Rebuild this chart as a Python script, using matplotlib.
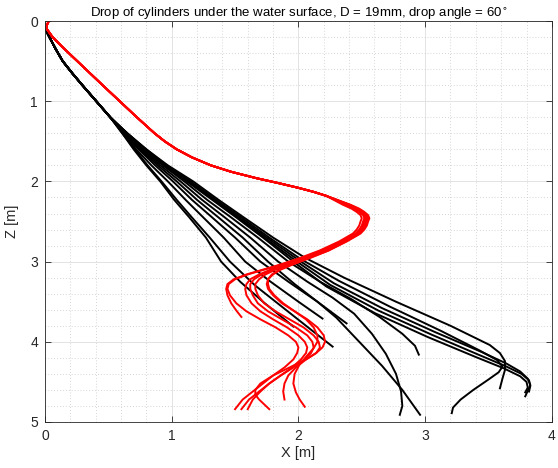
import numpy as np
import matplotlib.pyplot as plt

plt.rcParams['font.family'] = ['Liberation Sans', 'DejaVu Sans']

# shared upper parts of the trajectories (x [m], z [m])
red_top_x = [0.03, 0.015, 0.015, 0.06, 0.155, 0.255, 0.355, 0.455, 0.59, 0.725, 0.865, 0.945, 1.04,
             1.16, 1.31, 1.47, 1.67, 1.84, 2.00, 2.12, 2.22]
red_top_z = [0.00, 0.05, 0.10, 0.20, 0.35, 0.50, 0.65, 0.80, 1.00, 1.20, 1.40, 1.50, 1.60,
             1.70, 1.80, 1.88, 1.96, 2.02, 2.08, 2.13, 2.18]

blk_top_x = [0.00, 0.035, 0.085, 0.14, 0.215, 0.295, 0.405, 0.515]
blk_top_z = [0.09, 0.20, 0.35, 0.50, 0.65, 0.80, 1.00, 1.20]

# red runs after the turn
red_runs = [
    ([2.35, 2.42, 2.46, 2.49, 2.50, 2.49, 2.48, 2.46, 2.43, 2.32, 2.17, 2.02, 1.85, 1.72, 1.59, 1.49,
      1.44, 1.43, 1.44, 1.47, 1.51, 1.55],
     [2.29, 2.34, 2.38, 2.42, 2.46, 2.50, 2.55, 2.60, 2.65, 2.75, 2.86, 2.95, 3.04, 3.10, 3.16, 3.22,
      3.28, 3.34, 3.42, 3.52, 3.61, 3.69]),
    ([2.37, 2.44, 2.48, 2.51, 2.52, 2.51, 2.50, 2.48, 2.45, 2.34, 2.19, 2.04, 1.86, 1.73, 1.60, 1.50,
      1.45, 1.44, 1.46, 1.51, 1.59, 1.70, 1.82, 1.92, 1.98, 2.00, 1.99, 1.96, 1.89, 1.80, 1.72, 1.64,
      1.56, 1.50],
     [2.29, 2.34, 2.38, 2.42, 2.46, 2.50, 2.55, 2.60, 2.65, 2.75, 2.86, 2.95, 3.04, 3.10, 3.16, 3.22,
      3.28, 3.34, 3.42, 3.52, 3.62, 3.72, 3.82, 3.92, 4.00, 4.07, 4.14, 4.22, 4.32, 4.42, 4.52, 4.62,
      4.72, 4.84]),
    ([2.38, 2.45, 2.49, 2.52, 2.53, 2.52, 2.51, 2.49, 2.46, 2.35, 2.21, 2.06, 1.89, 1.78, 1.69, 1.62,
      1.59, 1.58, 1.59, 1.63, 1.70, 1.80, 1.91, 2.00, 2.05, 2.07, 2.06, 2.02, 1.95, 1.86, 1.77, 1.69,
      1.61, 1.55],
     [2.29, 2.34, 2.38, 2.42, 2.46, 2.50, 2.55, 2.60, 2.65, 2.75, 2.86, 2.95, 3.04, 3.10, 3.16, 3.22,
      3.28, 3.34, 3.42, 3.52, 3.62, 3.72, 3.82, 3.92, 4.00, 4.07, 4.14, 4.22, 4.32, 4.42, 4.52, 4.62,
      4.72, 4.84]),
    ([2.39, 2.46, 2.50, 2.53, 2.54, 2.53, 2.52, 2.50, 2.47, 2.36, 2.22, 2.07, 1.91, 1.80, 1.71, 1.65,
      1.62, 1.62, 1.64, 1.68, 1.76, 1.87, 1.98, 2.07, 2.11, 2.12, 2.10, 2.05, 1.96, 1.86, 1.77, 1.70,
      1.64, 1.60],
     [2.29, 2.34, 2.38, 2.42, 2.46, 2.50, 2.55, 2.60, 2.65, 2.75, 2.86, 2.95, 3.04, 3.10, 3.16, 3.22,
      3.28, 3.34, 3.42, 3.52, 3.62, 3.72, 3.82, 3.92, 4.00, 4.07, 4.14, 4.22, 4.32, 4.42, 4.52, 4.62,
      4.72, 4.84]),
    ([2.40, 2.47, 2.51, 2.54, 2.55, 2.54, 2.53, 2.51, 2.48, 2.37, 2.23, 2.08, 1.92, 1.82, 1.74, 1.69,
      1.66, 1.66, 1.68, 1.73, 1.82, 1.93, 2.04, 2.12, 2.16, 2.17, 2.14, 2.06, 1.93, 1.80, 1.70, 1.66,
      1.66, 1.69, 1.73, 1.77],
     [2.29, 2.34, 2.38, 2.42, 2.46, 2.50, 2.55, 2.60, 2.65, 2.75, 2.86, 2.95, 3.04, 3.10, 3.16, 3.22,
      3.28, 3.34, 3.42, 3.52, 3.62, 3.72, 3.82, 3.92, 4.00, 4.07, 4.14, 4.22, 4.32, 4.42, 4.52, 4.60,
      4.66, 4.72, 4.78, 4.84]),
    ([2.41, 2.48, 2.52, 2.55, 2.56, 2.55, 2.54, 2.52, 2.49, 2.38, 2.24, 2.10, 1.95, 1.86, 1.80, 1.76,
      1.75, 1.76, 1.80, 1.87, 1.97, 2.07, 2.15, 2.20, 2.21, 2.19, 2.14, 2.06, 1.98, 1.92, 1.89, 1.88,
      1.89],
     [2.29, 2.34, 2.38, 2.42, 2.46, 2.50, 2.55, 2.60, 2.65, 2.75, 2.86, 2.95, 3.04, 3.10, 3.16, 3.22,
      3.28, 3.34, 3.42, 3.52, 3.62, 3.72, 3.82, 3.92, 4.00, 4.07, 4.14, 4.22, 4.32, 4.42, 4.52, 4.62,
      4.72]),
    ([2.40, 2.47, 2.51, 2.54, 2.55, 2.54, 2.53, 2.51, 2.48, 2.37, 2.24, 2.09, 1.94, 1.85, 1.79, 1.76,
      1.76, 1.77, 1.81, 1.88, 1.97, 2.06, 2.12, 2.15, 2.15, 2.12, 2.07, 2.01, 1.97, 1.96, 1.98, 2.01,
      2.05],
     [2.29, 2.34, 2.38, 2.42, 2.46, 2.50, 2.55, 2.60, 2.65, 2.75, 2.86, 2.95, 3.04, 3.10, 3.16, 3.22,
      3.28, 3.34, 3.42, 3.52, 3.62, 3.72, 3.82, 3.92, 4.00, 4.08, 4.17, 4.28, 4.40, 4.52, 4.63, 4.72,
      4.81]),
]

# black runs after the common start
black_runs = [
    ([0.61, 0.70, 0.80, 0.91, 1.02, 1.14, 1.27, 1.39, 1.54, 1.72, 1.96],
     [1.40, 1.60, 1.80, 2.00, 2.23, 2.45, 2.70, 3.00, 3.25, 3.50, 3.81]),
    ([0.61, 0.71, 0.81, 0.92, 1.04, 1.16, 1.30, 1.46, 1.66, 1.90, 2.10, 2.27],
     [1.40, 1.60, 1.80, 2.00, 2.23, 2.45, 2.70, 3.00, 3.30, 3.60, 3.85, 4.06]),
    ([0.62, 0.72, 0.84, 0.97, 1.11, 1.25, 1.41, 1.58, 1.78, 2.00, 2.19],
     [1.40, 1.60, 1.80, 2.00, 2.23, 2.45, 2.70, 3.00, 3.25, 3.50, 3.71]),
    ([0.62, 0.74, 0.87, 1.01, 1.16, 1.32, 1.50, 1.70, 1.92, 2.15, 2.38],
     [1.40, 1.60, 1.80, 2.00, 2.23, 2.45, 2.70, 3.00, 3.25, 3.50, 3.77]),
    ([0.63, 0.75, 0.89, 1.04, 1.20, 1.37, 1.56, 1.76, 1.97, 2.15, 2.30, 2.48, 2.66, 2.82, 2.96],
     [1.40, 1.60, 1.80, 2.00, 2.23, 2.45, 2.70, 3.00, 3.28, 3.50, 3.70, 4.00, 4.30, 4.60, 4.91]),
    ([0.63, 0.76, 0.91, 1.07, 1.24, 1.42, 1.62, 1.84, 2.07, 2.27, 2.44, 2.58, 2.69, 2.77, 2.81, 2.82,
      2.80],
     [1.40, 1.60, 1.80, 2.00, 2.23, 2.45, 2.70, 3.00, 3.25, 3.45, 3.65, 3.90, 4.15, 4.40, 4.62, 4.80,
      4.91]),
    ([0.64, 0.77, 0.93, 1.10, 1.28, 1.47, 1.68, 1.92, 2.17, 2.42, 2.64, 2.82, 2.92, 2.95],
     [1.40, 1.60, 1.80, 2.00, 2.23, 2.45, 2.70, 3.00, 3.25, 3.47, 3.69, 3.90, 4.05, 4.16]),
    ([0.65, 0.80, 0.97, 1.17, 1.37, 1.57, 1.80, 2.05, 2.36, 2.77, 3.20, 3.51, 3.59, 3.63, 3.63, 3.61,
      3.59],
     [1.40, 1.60, 1.80, 2.00, 2.23, 2.45, 2.70, 2.95, 3.20, 3.50, 3.80, 4.04, 4.14, 4.24, 4.35, 4.46,
      4.58]),
    ([0.65, 0.80, 0.96, 1.15, 1.35, 1.55, 1.77, 2.02, 2.32, 2.72, 3.12, 3.42, 3.57, 3.61, 3.58, 3.50,
      3.38, 3.28, 3.22, 3.21],
     [1.40, 1.60, 1.80, 2.00, 2.23, 2.45, 2.70, 2.97, 3.24, 3.56, 3.86, 4.10, 4.23, 4.31, 4.38, 4.47,
      4.60, 4.72, 4.82, 4.89]),
    ([0.65, 0.79, 0.95, 1.14, 1.34, 1.53, 1.75, 2.00, 2.28, 2.66, 3.08, 3.45, 3.64, 3.75, 3.81, 3.83,
      3.81, 3.79],
     [1.40, 1.60, 1.80, 2.00, 2.23, 2.45, 2.70, 2.98, 3.27, 3.58, 3.88, 4.13, 4.27, 4.37, 4.46, 4.54,
      4.61, 4.68]),
    ([0.64, 0.79, 0.95, 1.13, 1.33, 1.52, 1.73, 1.98, 2.25, 2.63, 3.05, 3.42, 3.63, 3.76, 3.82, 3.83,
      3.82],
     [1.40, 1.60, 1.80, 2.00, 2.23, 2.45, 2.70, 2.99, 3.29, 3.61, 3.91, 4.16, 4.30, 4.40, 4.48, 4.55,
      4.62]),
    ([0.64, 0.78, 0.94, 1.12, 1.32, 1.51, 1.72, 1.96, 2.22, 2.60, 3.02, 3.40, 3.62, 3.75, 3.80, 3.81,
      3.79],
     [1.40, 1.60, 1.80, 2.00, 2.23, 2.45, 2.70, 3.00, 3.31, 3.64, 3.94, 4.19, 4.33, 4.43, 4.50, 4.57,
      4.63]),
]

fig = plt.figure(figsize=(5.58, 4.68), dpi=100)
ax = fig.add_axes([0.0806, 0.0983, 0.9084, 0.8567])

for xs, zs in black_runs:
    ax.plot(blk_top_x + xs, blk_top_z + zs, color='k', lw=1.4, solid_joinstyle='round')
for xs, zs in red_runs:
    ax.plot(red_top_x + xs, red_top_z + zs, color='r', lw=1.4, solid_joinstyle='round')

ax.set_xlim(0, 4)
ax.set_ylim(5, 0)
ax.set_xticks(np.arange(0, 5, 1))
ax.set_yticks(np.arange(0, 6, 1))
ax.set_xticks(np.arange(0, 4.01, 0.2), minor=True)
ax.set_yticks(np.arange(0, 5.01, 0.2), minor=True)

axc = '#262626'
ax.grid(which='major', color='#dedede', lw=0.6, ls='-')
ax.grid(which='minor', color='#c8c8c8', lw=0.6, ls=(0, (1, 2.5)))
ax.set_axisbelow(True)
ax.tick_params(which='major', direction='in', length=4, width=0.6, color=axc,
               top=True, right=True, labelsize=10, labelcolor=axc, pad=5)
ax.tick_params(which='minor', length=0)
for s in ax.spines.values():
    s.set_color(axc)
    s.set_linewidth(0.6)

ax.set_title(r'Drop of cylinders under the water surface, D = 19mm, drop angle = 60$^{\circ}$',
             fontsize=9.5, color='k', pad=3)
ax.set_xlabel('X [m]', fontsize=10.5, color=axc, labelpad=2)
ax.set_ylabel('Z [m]', fontsize=10.5, color=axc, labelpad=8)

fig.savefig('out.png', dpi=100)
